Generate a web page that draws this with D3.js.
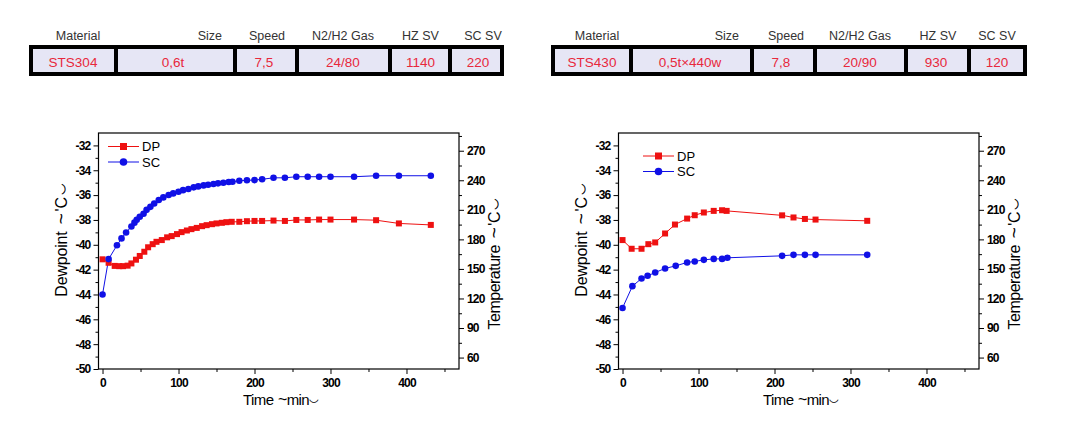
<!DOCTYPE html>
<html><head><meta charset="utf-8">
<script src="https://cdn.jsdelivr.net/npm/d3@7"></script>
<style>
html,body{margin:0;padding:0;background:#fff;}
svg{display:block;}
text{font-family:"Liberation Sans",Arial,sans-serif;}
</style></head>
<body>
<svg id="c" width="1086" height="428"></svg>
<script>
// ---------- data ----------
const tableHeaders = ["Material", "Size", "Speed", "N2/H2 Gas", "HZ SV", "SC SV"];
const table1Values = ["STS304", "0,6t", "7,5", "24/80", "1140", "220"];
const table2Values = ["STS430", "0,5t×440w", "7,8", "20/90", "930", "120"];

const xTicks = [0, 100, 200, 300, 400];
const dewTicks = [-50, -48, -46, -44, -42, -40, -38, -36, -34, -32];
const tempTicks = [60, 90, 120, 150, 180, 210, 240, 270];
const legendLabels = ["DP", "SC"];

// Chart 1 (STS304)
const dp1Time = [0, 8, 16, 22, 27, 33, 38, 44, 49, 55, 60, 66, 71, 78, 85, 91, 98, 104, 111, 117, 124, 131, 137, 144, 150, 157, 163, 170, 180, 190, 200, 210, 225, 240, 255, 270, 285, 300, 331, 360, 390, 432];
const dp1 = [-41.17, -41.45, -41.7, -41.72, -41.72, -41.68, -41.5, -41.2, -40.9, -40.56, -40.2, -39.95, -39.76, -39.62, -39.4, -39.3, -39.14, -38.98, -38.85, -38.74, -38.64, -38.5, -38.42, -38.34, -38.28, -38.23, -38.18, -38.15, -38.15, -38.1, -38.08, -38.08, -38.05, -38.08, -38.0, -38.0, -37.97, -37.97, -37.97, -38.02, -38.28, -38.4];
const sc1Time = [0, 8, 19, 25, 31, 38, 42, 45, 49, 54, 58, 63, 68, 74, 80, 87, 93, 100, 106, 113, 120, 126, 133, 139, 146, 152, 159, 166, 171, 180, 190, 200, 210, 225, 240, 255, 270, 285, 300, 331, 360, 390, 432];
const sc1 = [124, 160, 174, 181, 187, 193, 197, 200, 203, 206, 210, 213, 216.5, 220, 222.6, 225, 226.7, 228.3, 230, 231.1, 232.8, 233.8, 234.8, 235.5, 236.2, 236.9, 237.5, 238.2, 238.5, 239.5, 240, 240.2, 241, 242.5, 242.5, 243.6, 243.6, 243.6, 243.6, 243.6, 244.6, 244.6, 244.6];

// Chart 2 (STS430)
const dp2Time = [0, 12, 25, 34, 43, 56, 69, 85, 95, 107, 120, 131, 137, 210, 225, 240, 254, 322];
const dp2 = [-39.62, -40.32, -40.32, -39.95, -39.81, -39.09, -38.37, -37.89, -37.62, -37.4, -37.27, -37.22, -37.27, -37.63, -37.8, -37.92, -37.97, -38.07];
const sc2Time = [0, 13, 25, 33, 43, 56, 70, 85, 95, 107, 120, 131, 138, 210, 225, 240, 254, 322];
const sc2 = [110.4, 132.5, 140.3, 143, 146.4, 150.5, 153.1, 156.6, 157.6, 159.2, 160.2, 160.2, 161.3, 163.3, 164.3, 164.3, 164.3, 164.3];

// ---------- drawing ----------
const svg = d3.select("#c");
const RED = "#ee1111", BLUE = "#1010e6", TXT = "#e8283c", FILL = "#e6e6f5";

function drawTable(values, left, dividers, right, headerX, headerAnchor, valueX) {
  const top = 45, bottom = 76, bw = 4;
  const g = svg.append("g");
  g.append("rect").attr("x", left).attr("y", top).attr("width", right - left).attr("height", bottom - top).attr("fill", "#000");
  const edges = [left].concat(dividers).concat([right - bw]);
  for (let i = 0; i < edges.length - 1; i++) {
    const a = edges[i] + bw, b = edges[i + 1];
    g.append("rect").attr("x", a).attr("y", top + bw).attr("width", b - a).attr("height", bottom - top - 2 * bw).attr("fill", FILL);
  }
  tableHeaders.forEach((h, i) => {
    g.append("text").attr("x", headerX[i]).attr("y", 40).attr("text-anchor", headerAnchor[i])
      .attr("font-size", 12.5).attr("fill", "#333").text(h);
  });
  values.forEach((v, i) => {
    g.append("text").attr("x", valueX[i]).attr("y", 67).attr("text-anchor", "middle")
      .attr("font-size", 13.5).attr("fill", TXT).text(v);
  });
}

drawTable(table1Values, 29, [114, 233, 295, 388, 448], 504,
  [78, 222, 267, 343, 420.5, 483], ["middle", "end", "middle", "middle", "middle", "middle"],
  [73, 173, 264, 343, 420.5, 478]);
drawTable(table2Values, 551, [629, 750, 813, 904, 967], 1027,
  [597, 739, 786, 860, 938, 997], ["middle", "end", "middle", "middle", "middle", "middle"],
  [592, 690, 781, 860, 936, 997]);

function drawChart(ox, dpT, dpV, scT, scV, legendX, legendY) {
  const L = 98.5 + ox, R = 459 + ox, T = 133, B = 369;
  const x = d3.scaleLinear().domain([-5.3, 469.1]).range([L, R]);
  const yL = d3.scaleLinear().domain([-50, -31]).range([B, T]);
  const yR = d3.scaleLinear().domain([48.4, 288]).range([B, T]);
  const g = svg.append("g");

  // frame
  g.append("rect").attr("x", L).attr("y", T).attr("width", R - L).attr("height", B - T)
    .attr("fill", "none").attr("stroke", "#000").attr("stroke-width", 1.2);

  const tickFont = (sel) => sel.selectAll("text").attr("font-size", 12).attr("font-weight", "bold")
    .attr("letter-spacing", "-0.8px").attr("fill", "#000").attr("font-family", "Liberation Sans, Arial, sans-serif");

  // bottom axis
  const gx = g.append("g").attr("transform", `translate(0,${B})`)
    .call(d3.axisBottom(x).tickValues(xTicks).tickSize(5).tickPadding(4).tickFormat(d3.format("d")));
  gx.select(".domain").remove();
  tickFont(gx);
  g.append("g").attr("transform", `translate(0,${B})`)
    .call(d3.axisBottom(x).tickValues([50, 150, 250, 350, 450]).tickSize(3).tickFormat(""))
    .select(".domain").remove();

  // left axis
  const gl = g.append("g").attr("transform", `translate(${L},0)`)
    .call(d3.axisLeft(yL).tickValues(dewTicks).tickSize(5).tickPadding(3).tickFormat(d3.format("d")));
  gl.select(".domain").remove();
  tickFont(gl);
  gl.selectAll("text").text(d => String(d).replace("\u2212", "-"));
  g.append("g").attr("transform", `translate(${L},0)`)
    .call(d3.axisLeft(yL).tickValues(d3.range(-49, -31, 2)).tickSize(3).tickFormat(""))
    .select(".domain").remove();

  // right axis
  const gr = g.append("g").attr("transform", `translate(${R},0)`)
    .call(d3.axisRight(yR).tickValues(tempTicks).tickSize(5).tickPadding(3).tickFormat(d3.format("d")));
  gr.select(".domain").remove();
  tickFont(gr);
  g.append("g").attr("transform", `translate(${R},0)`)
    .call(d3.axisRight(yR).tickValues(d3.range(75, 290, 30)).tickSize(3).tickFormat(""))
    .select(".domain").remove();

  g.selectAll(".tick line").attr("stroke", "#000").attr("stroke-width", 1);

  // axis titles
  const title = (sel, main, unit, big) => {
    sel.append("tspan").text(main);
    sel.append("tspan").attr("dx", big ? 3 : 1).attr("font-size", big ? 19 : 16).text("~");
    sel.append("tspan").attr("dx", big ? 2 : 0).text(unit);
    sel.append("tspan").attr("dx", big ? 2 : 0).attr("dy", -6).attr("font-size", big ? 19 : 16).text("\u203F");
  };
  const tx = g.append("text").attr("x", (L + R) / 2 + 2).attr("y", 405).attr("text-anchor", "middle")
    .attr("font-size", 15).attr("letter-spacing", "-0.6px").attr("fill", "#000");
  title(tx, "Time ", "min", false);
  const ty = g.append("text").attr("transform", `translate(${67 + ox},${240}) rotate(-90)`).attr("text-anchor", "middle")
    .attr("font-size", 16).attr("letter-spacing", "-0.2px").attr("fill", "#000");
  title(ty, "Dewpoint ", "'C", true);
  const tr = g.append("text").attr("transform", `translate(${500 + ox},${264}) rotate(-90)`).attr("text-anchor", "middle")
    .attr("font-size", 16).attr("letter-spacing", "-0.5px").attr("fill", "#000");
  title(tr, "Temperature ", "'C", true);

  // series
  const dpData = dpT.map((t, i) => [t, dpV[i]]);
  const scData = scT.map((t, i) => [t, scV[i]]);
  const lineDP = d3.line().x(d => x(d[0])).y(d => yL(d[1]));
  const lineSC = d3.line().x(d => x(d[0])).y(d => yR(d[1]));
  g.append("path").attr("d", lineDP(dpData)).attr("fill", "none").attr("stroke", RED).attr("stroke-width", 1);
  g.append("path").attr("d", lineSC(scData)).attr("fill", "none").attr("stroke", BLUE).attr("stroke-width", 1);
  g.selectAll(".dp").data(dpData).enter().append("rect")
    .attr("x", d => x(d[0]) - 3).attr("y", d => yL(d[1]) - 3).attr("width", 6).attr("height", 6).attr("fill", RED);
  g.selectAll(".sc").data(scData).enter().append("circle")
    .attr("cx", d => x(d[0])).attr("cy", d => yR(d[1])).attr("r", 3.3).attr("fill", BLUE);

  // legend
  const lg = g.append("g").attr("transform", `translate(${legendX + ox},${legendY})`);
  [RED, BLUE].forEach((c, i) => {
    const yy = i * 15.5;
    lg.append("line").attr("x1", 0).attr("x2", 31).attr("y1", yy).attr("y2", yy).attr("stroke", c).attr("stroke-width", 1);
    if (i === 0) lg.append("rect").attr("x", 12).attr("y", yy - 3.5).attr("width", 7).attr("height", 7).attr("fill", c);
    else lg.append("circle").attr("cx", 15.5).attr("cy", yy).attr("r", 3.8).attr("fill", c);
    lg.append("text").attr("x", 34).attr("y", yy + 4.5).attr("font-size", 13).attr("fill", "#000").text(legendLabels[i]);
  });
}

drawChart(0, dp1Time, dp1, sc1Time, sc1, 108, 146.5);
drawChart(520, dp2Time, dp2, sc2Time, sc2, 123, 156);
</script>
</body></html>
